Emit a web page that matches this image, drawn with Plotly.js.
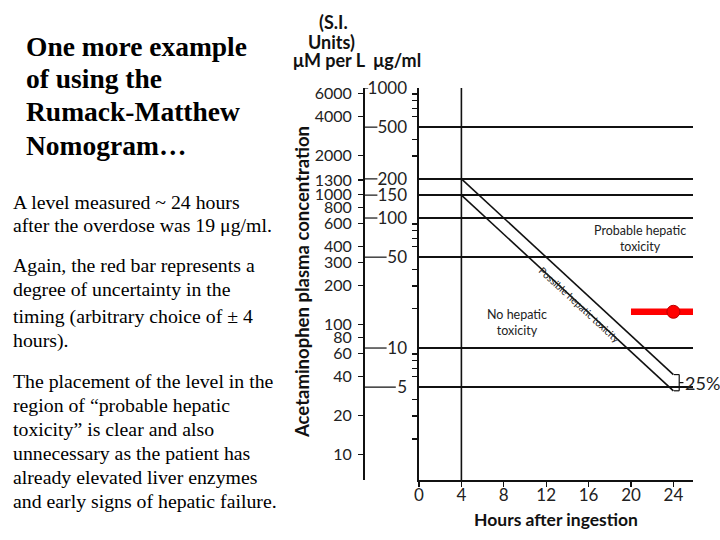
<!DOCTYPE html>
<html>
<head>
<meta charset="utf-8">
<script src="https://cdn.plot.ly/plotly-3.0.1.min.js"></script>
<style>
  html, body { margin: 0; padding: 0; background: #fff; }
  #nomogram { width: 720px; height: 540px; }
</style>
</head>
<body>
<div id="nomogram"></div>
<script>
// axis ticks
const hourTicks = [0, 4, 8, 12, 16, 20, 24];
const ugMajor = [1000, 500, 200, 150, 100, 50, 10, 5];
const ugMinor = [900, 800, 700, 600, 400, 300, 90, 80, 70, 60, 40, 30, 20, 9, 8, 7, 6, 4, 3, 2];
const umTicks = [6000, 4000, 2000, 1300, 1000, 800, 600, 400, 300, 200, 100, 80, 60, 40, 20, 10];
const UM_PER_UG = 6.62; // 1 ug/ml acetaminophen ~ 6.62 umol/L

// treatment lines (4 h -> 24 h)
const lineHours = [4, 24];
const upperLine = [200, 6.25];
const lowerLine = [150, 4.69];

// patient level, 19 ug/ml at ~24 h, +/- 4 h
const levelHour = [24];
const levelValue = [19];
const timingError = [4];

// slide text, one entry per line
const titleLines = ["One more example", "of using the", "Rumack-Matthew", "Nomogram…"];
const bodyLines = [
  "A level measured ~ 24 hours",
  "after the overdose was 19 μg/ml.",
  "Again, the red bar represents a",
  "degree of uncertainty in the",
  "timing (arbitrary choice of ± 4",
  "hours).",
  "The placement of the level in the",
  "region of “probable hepatic",
  "toxicity” is clear and also",
  "unnecessary as the patient has",
  "already elevated liver enzymes",
  "and early signs of hepatic failure.",
];
const titleRows = [47, 79, 112, 145];
const bodyRows = [202, 225, 265, 289, 316, 340, 381, 405, 429, 453, 477, 501];

// plot geometry (paper px)
const W = 720, H = 540;
const plotLeft = 419, plotRight = 693, plotTop = 88, plotBottom = 480;
const umAxisX = 363;
const yRange = [-0.015, 3.0];
const xRange = [0, 25.85];

const ink = "#111";
const chartFont = "Lato, 'Open Sans', sans-serif";
const serif = "'Liberation Serif', 'Times New Roman', serif";
const tickFont = { family: chartFont, size: 17, color: "#222" };

const traces = [
  {
    x: lineHours, y: upperLine, type: "scatter", mode: "lines",
    line: { color: ink, width: 1.6 }, hoverinfo: "skip", showlegend: false,
  },
  {
    x: lineHours, y: lowerLine, type: "scatter", mode: "lines",
    line: { color: ink, width: 1.6 }, hoverinfo: "skip", showlegend: false,
  },
  {
    // empty trace so the umol/L axis gets drawn
    x: [null], y: [null], yaxis: "y2", type: "scatter", mode: "markers",
    hoverinfo: "skip", showlegend: false,
  },
  {
    x: levelHour, y: levelValue, type: "scatter", mode: "markers",
    cliponaxis: false,
    marker: { color: "#f00", size: 13, line: { color: "#b00", width: 1 } },
    error_x: { type: "data", array: timingError, symmetric: true, color: "#f00", thickness: 6.5, width: 0 },
    showlegend: false,
  },
];

// connectors from umol/L axis to the ug/ml labels
const shapes = ugMajor.map((v) => {
  const labelW = String(v).length * 9.2;
  return {
    type: "line", xref: "paper", yref: "y",
    x0: umAxisX / W, x1: (410 - labelW - 5) / W, y0: v, y1: v,
    line: { color: ink, width: 1.2 },
  };
});

// vertical line at 4 h
shapes.push({
  type: "line", xref: "x", yref: "y domain", x0: 4, x1: 4, y0: 0, y1: 1,
  line: { color: ink, width: 1.6 },
});

// 25% bracket
const bx0 = 24.05, bx1 = 24.55, bx2 = 24.95;
shapes.push(
  { type: "line", xref: "x", yref: "y", x0: bx0, x1: bx1, y0: upperLine[1], y1: upperLine[1], line: { color: ink, width: 1.2 } },
  { type: "line", xref: "x", yref: "y", x0: bx0, x1: bx1, y0: lowerLine[1], y1: lowerLine[1], line: { color: ink, width: 1.2 } },
  { type: "line", xref: "x", yref: "y", x0: bx1, x1: bx1, y0: upperLine[1], y1: lowerLine[1], line: { color: ink, width: 1.2 } },
  { type: "line", xref: "x", yref: "y", x0: bx1, x1: bx2, y0: 5.42, y1: 5.42, line: { color: ink, width: 1.2 } }
);

const annotations = [];

titleLines.forEach((t, i) => {
  annotations.push({
    text: t, xref: "paper", yref: "paper", x: 24 / W, y: 1 - titleRows[i] / H,
    xanchor: "left", yanchor: "middle", showarrow: false,
    font: { family: serif, size: 27.5, color: "#000", weight: "bold" },
  });
});
bodyLines.forEach((t, i) => {
  annotations.push({
    text: t, xref: "paper", yref: "paper", x: 11 / W, y: 1 - bodyRows[i] / H,
    xanchor: "left", yanchor: "middle", showarrow: false,
    font: { family: serif, size: 19.8, color: "#000" },
  });
});

annotations.push(
  // unit headers
  {
    text: "(S.I.", xref: "paper", yref: "paper", x: 333 / W, y: 1 - 22 / H,
    xanchor: "center", yanchor: "middle", showarrow: false,
    font: { family: chartFont, size: 18, color: "#111", weight: "bold" },
  },
  {
    text: "Units)", xref: "paper", yref: "paper", x: 331 / W, y: 1 - 42 / H,
    xanchor: "center", yanchor: "middle", showarrow: false,
    font: { family: chartFont, size: 18, color: "#111", weight: "bold" },
  },
  {
    text: "μM per L  μg/ml", xref: "paper", yref: "paper", x: 291 / W, y: 1 - 60 / H,
    xanchor: "left", yanchor: "middle", showarrow: false,
    font: { family: chartFont, size: 18, color: "#111", weight: "bold" },
  },
  // axis titles
  {
    text: "Acetaminophen plasma concentration", xref: "paper", yref: "paper",
    x: 302 / W, y: 1 - 282 / H, xanchor: "center", yanchor: "middle",
    textangle: -90, showarrow: false,
    font: { family: chartFont, size: 18.5, color: "#111", weight: "bold" },
  },
  {
    text: "Hours after ingestion", xref: "paper", yref: "paper",
    x: 556 / W, y: 1 - 519 / H, xanchor: "center", yanchor: "middle", showarrow: false,
    font: { family: chartFont, size: 17.5, color: "#111", weight: "bold" },
  },
  // region labels
  {
    text: "Probable hepatic<br>toxicity", xref: "x", yref: "y",
    x: 20.85, y: Math.log10(69), showarrow: false, align: "center",
    font: { family: chartFont, size: 12.5, color: "#222" },
  },
  {
    text: "No hepatic<br>toxicity", xref: "x", yref: "y",
    x: 9.25, y: Math.log10(15.8), showarrow: false, align: "center",
    font: { family: chartFont, size: 12.5, color: "#222" },
  },
  {
    text: "Possible hepatic toxicity", xref: "x", yref: "y",
    x: 15.2, y: Math.log10(21.6), showarrow: false, textangle: 42.7,
    font: { family: chartFont, size: 10, color: "#222" },
  },
  {
    text: "25%", xref: "x", yref: "y", x: 24.95, y: Math.log10(5.42),
    xanchor: "left", showarrow: false,
    font: { family: chartFont, size: 18, color: "#222" },
  }
);

const layout = {
  width: W, height: H,
  margin: { l: 0, r: 0, t: 0, b: 0 },
  paper_bgcolor: "#fff", plot_bgcolor: "#fff",
  showlegend: false,
  xaxis: {
    domain: [plotLeft / W, plotRight / W],
    range: xRange,
    tickvals: hourTicks,
    ticks: "outside", ticklen: 5, tickwidth: 1.2, tickcolor: ink,
    showline: true, linecolor: ink, linewidth: 1.6,
    showgrid: false, zeroline: false,
    tickfont: tickFont, ticklabelstandoff: -6,
  },
  yaxis: {
    domain: [1 - plotBottom / H, 1 - plotTop / H],
    type: "log", range: yRange,
    tickvals: ugMajor, ticktext: ugMajor.map(String),
    ticks: "", ticklabelstandoff: 7,
    showline: true, linecolor: ink, linewidth: 1.6,
    showgrid: true, gridcolor: ink, gridwidth: 1.4,
    zeroline: false,
    minor: { tickvals: ugMinor, ticks: "outside", ticklen: 5, tickwidth: 1.2, tickcolor: ink, showgrid: false },
    tickfont: tickFont,
  },
  yaxis2: {
    overlaying: "y", anchor: "free", position: umAxisX / W, side: "left",
    type: "log",
    range: [yRange[0] + Math.log10(UM_PER_UG), yRange[1] + Math.log10(UM_PER_UG)],
    tickvals: umTicks, ticktext: umTicks.map(String),
    ticks: "outside", ticklen: 5, tickwidth: 1.2, tickcolor: ink,
    showline: true, linecolor: ink, linewidth: 1.6,
    showgrid: false, zeroline: false,
    tickfont: { family: chartFont, size: 16, color: "#222" },
    ticklabelstandoff: 3,
  },
  shapes: shapes,
  annotations: annotations,
};

Plotly.newPlot("nomogram", traces, layout, { staticPlot: true });
</script>
</body>
</html>
